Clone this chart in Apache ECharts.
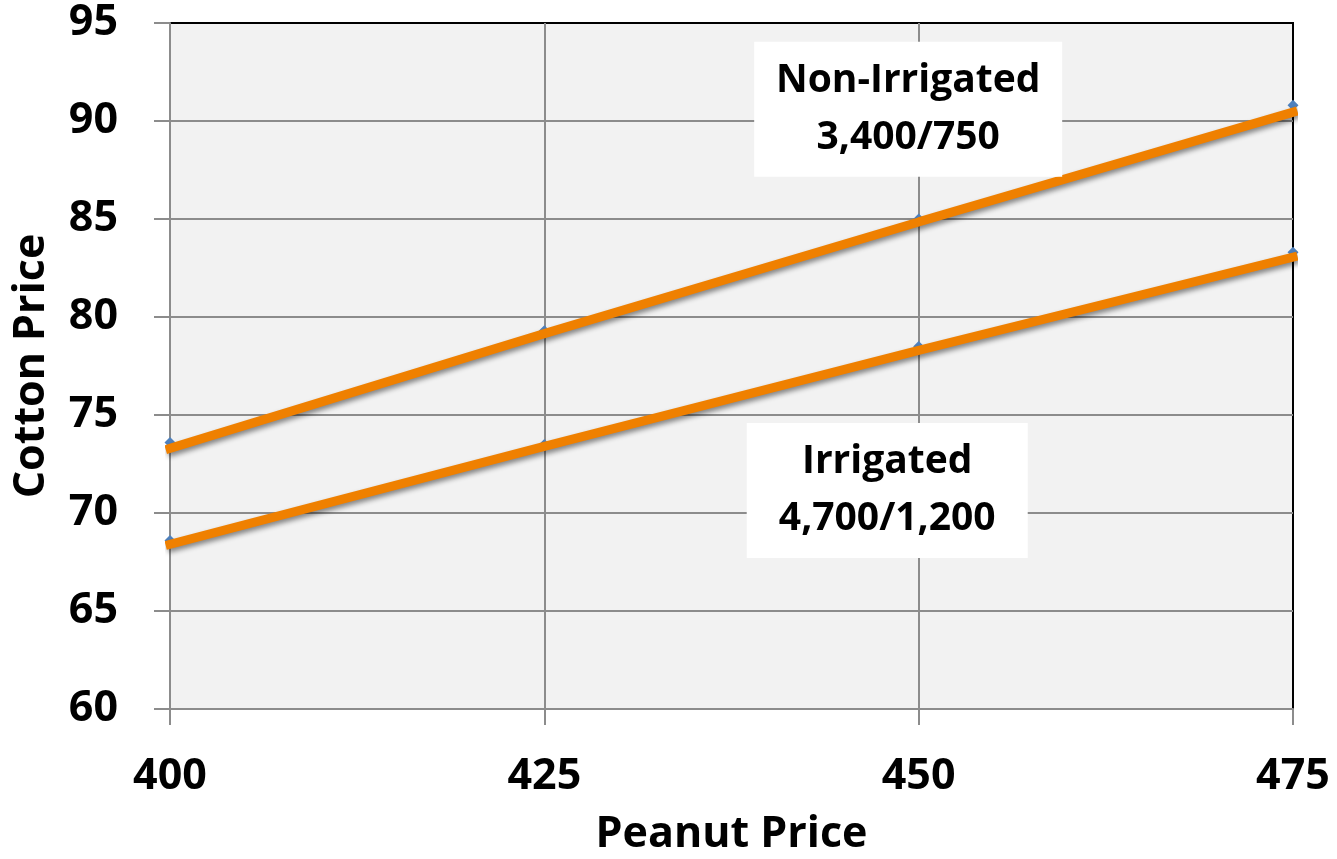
<!DOCTYPE html>
<html>
<head>
<meta charset="utf-8">
<script src="https://cdn.jsdelivr.net/npm/echarts@6/dist/echarts.min.js"></script>
<style>
  html, body { margin: 0; padding: 0; background: #ffffff; }
  #chart { width: 1337px; height: 859px; }
</style>
</head>
<body>
<div id="chart"></div>
<script>
// Peanut price points (x axis)
const peanutPrices = [400, 425, 450, 475];

// Break-even cotton prices (observed points)
const nonIrrigatedPoints = [73.6, 79.3, 85.0, 90.8];
const irrigatedPoints = [68.6, 73.5, 78.5, 83.3];

// Fitted lines through the points
const nonIrrigatedLine = [73.3, 79.15, 84.85, 90.45];
const irrigatedLine = [68.4, 73.4, 78.3, 83.05];

// Annotation text and anchor positions (data coordinates)
const nonIrrigatedLabel = ['Non-Irrigated', '3,400/750'];
const irrigatedLabel = ['Irrigated', '4,700/1,200'];
const nonIrrigatedAnchor = [449.3, 90.6];
const irrigatedAnchor = [447.9, 71.15];

const FONT = '"Open Sans", Lato, sans-serif';
const ORANGE = '#ef8000';
const BLUE = '#4f81bd';

const pairs = (xs, ys) => xs.map((x, i) => [x, ys[i]]);

const chart = echarts.init(document.getElementById('chart'), null, { renderer: 'canvas' });

const lineStyle = {
  color: ORANGE,
  width: 9,
  cap: 'square',
  shadowColor: 'rgba(0,0,0,0.45)',
  shadowBlur: 5,
  shadowOffsetX: 2,
  shadowOffsetY: 3
};

function boxLabel(lines, w) {
  return {
    show: true,
    position: 'inside',
    formatter: lines.join('\n'),
    color: '#000',
    opacity: 1,
    fontFamily: FONT,
    fontWeight: 'bold',
    fontSize: 39,
    lineHeight: 57,
    align: 'center',
    verticalAlign: 'middle',
    backgroundColor: '#ffffff',
    width: w,
    height: 135,
    padding: 0
  };
}

const axisText = { fontFamily: FONT, fontWeight: 'bold', fontSize: 43, color: '#000' };

chart.setOption({
  animation: false,
  backgroundColor: '#ffffff',
  grid: {
    left: 170, right: 44, top: 23, bottom: 150,
    containLabel: false,
    outerBoundsMode: 'none',
    show: true,
    backgroundColor: '#f2f2f2',
    borderColor: '#000000',
    borderWidth: 2
  },
  xAxis: {
    type: 'value',
    min: 400, max: 475, interval: 25,
    name: 'Peanut Price',
    nameLocation: 'middle',
    nameGap: 104,
    nameTextStyle: axisText,
    axisLine: { show: true, lineStyle: { color: '#8c8c8c', width: 2 } },
    axisTick: { show: true, length: 16, lineStyle: { color: '#8c8c8c', width: 2 } },
    axisLabel: Object.assign({ margin: 46 }, axisText),
    splitLine: { show: true, showMinLine: false, showMaxLine: false, lineStyle: { color: '#8c8c8c', width: 2 } }
  },
  yAxis: {
    type: 'value',
    min: 60, max: 95, interval: 5,
    name: 'Cotton Price',
    nameLocation: 'middle',
    nameGap: 117,
    nameRotate: 90,
    nameTextStyle: axisText,
    axisLine: { show: true, lineStyle: { color: '#8c8c8c', width: 2 } },
    axisTick: { show: true, length: 16, lineStyle: { color: '#8c8c8c', width: 2 } },
    axisLabel: Object.assign({ margin: 52 }, axisText),
    splitLine: { show: true, showMinLine: false, showMaxLine: false, lineStyle: { color: '#8c8c8c', width: 2 } }
  },
  series: [
    {
      name: 'Non-Irrigated points', type: 'line', z: 3,
      data: pairs(peanutPrices, nonIrrigatedPoints),
      lineStyle: { width: 0, opacity: 0 },
      symbol: 'diamond', symbolSize: 11, showSymbol: true,
      itemStyle: { color: BLUE }
    },
    {
      name: 'Irrigated points', type: 'line', z: 3,
      data: pairs(peanutPrices, irrigatedPoints),
      lineStyle: { width: 0, opacity: 0 },
      symbol: 'diamond', symbolSize: 11, showSymbol: true,
      itemStyle: { color: BLUE }
    },
    {
      name: 'Non-Irrigated', type: 'line', z: 4, clip: false,
      data: pairs(peanutPrices, nonIrrigatedLine),
      showSymbol: false, lineStyle: lineStyle
    },
    {
      name: 'Irrigated', type: 'line', z: 4, clip: false,
      data: pairs(peanutPrices, irrigatedLine),
      showSymbol: false, lineStyle: lineStyle
    },
    {
      name: 'Labels', type: 'scatter', z: 5,
      symbolSize: 0,
      itemStyle: { opacity: 1 },
      emphasis: { disabled: true },
      data: [
        { value: nonIrrigatedAnchor, label: boxLabel(nonIrrigatedLabel, 308) },
        { value: irrigatedAnchor, label: boxLabel(irrigatedLabel, 281) }
      ]
    }
  ]
});
</script>
</body>
</html>
